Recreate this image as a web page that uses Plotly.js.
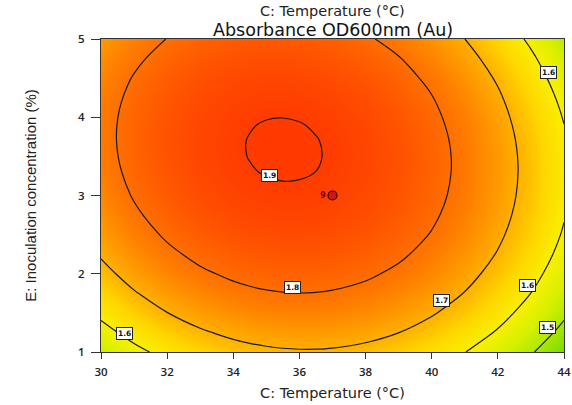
<!DOCTYPE html>
<html>
<head>
<meta charset="utf-8">
<script src="https://cdn.plot.ly/plotly-3.0.1.min.js"></script>
<style>
  html, body { margin: 0; padding: 0; background: #ffffff; }
  #chart { width: 572px; height: 405px; }
</style>
</head>
<body>
<div id="chart"></div>
<script>
// Factor C: temperature (°C) — columns of the response grid (finer near the optimum)
const temperature = [30, 31, 32, 33, 34, 34.5, 35, 35.5, 36, 36.5, 37, 38, 39, 40, 41, 42, 43, 44];

// Factor E: inoculation concentration (%) — rows of the response grid (finer near the optimum)
const inoculation = [1, 1.25, 1.5, 1.75, 2, 2.25, 2.5, 2.75, 3, 3.3, 3.5, 3.7, 3.9, 4.1, 4.3, 4.5, 4.75, 5];

// Predicted absorbance OD600nm (Au), one row per inoculation level
const absorbance = [
  [1.5342, 1.5816, 1.6207, 1.6515, 1.6741, 1.6823, 1.6884, 1.6925, 1.6945, 1.6945, 1.6924, 1.6820, 1.6634, 1.6365, 1.6014, 1.5581, 1.5065, 1.4466],
  [1.5767, 1.6234, 1.6619, 1.6922, 1.7142, 1.7222, 1.7280, 1.7318, 1.7336, 1.7332, 1.7308, 1.7199, 1.7007, 1.6733, 1.6376, 1.5937, 1.5415, 1.4811],
  [1.6151, 1.6613, 1.6992, 1.7289, 1.7504, 1.7580, 1.7636, 1.7671, 1.7686, 1.7680, 1.7653, 1.7538, 1.7340, 1.7060, 1.6698, 1.6253, 1.5725, 1.5115],
  [1.6495, 1.6951, 1.7325, 1.7616, 1.7825, 1.7899, 1.7952, 1.7984, 1.7996, 1.7987, 1.7957, 1.7837, 1.7633, 1.7348, 1.6979, 1.6529, 1.5996, 1.5380],
  [1.6799, 1.7250, 1.7618, 1.7904, 1.8107, 1.8177, 1.8228, 1.8257, 1.8266, 1.8254, 1.8222, 1.8095, 1.7886, 1.7595, 1.7221, 1.6765, 1.6226, 1.5605],
  [1.7063, 1.7508, 1.7871, 1.8151, 1.8348, 1.8416, 1.8463, 1.8490, 1.8496, 1.8481, 1.8446, 1.8314, 1.8099, 1.7802, 1.7423, 1.6961, 1.6416, 1.5790],
  [1.7288, 1.7727, 1.8084, 1.8358, 1.8550, 1.8615, 1.8659, 1.8683, 1.8686, 1.8669, 1.8631, 1.8493, 1.8273, 1.7970, 1.7585, 1.7117, 1.6567, 1.5934],
  [1.7472, 1.7905, 1.8256, 1.8525, 1.8711, 1.8773, 1.8815, 1.8836, 1.8836, 1.8816, 1.8775, 1.8632, 1.8406, 1.8097, 1.7706, 1.7233, 1.6677, 1.6039],
  [1.7616, 1.8044, 1.8389, 1.8652, 1.8833, 1.8892, 1.8931, 1.8949, 1.8946, 1.8923, 1.8880, 1.8730, 1.8499, 1.8185, 1.7788, 1.7309, 1.6748, 1.6104],
  [1.7736, 1.8157, 1.8496, 1.8752, 1.8926, 1.8982, 1.9017, 1.9032, 1.9026, 1.8999, 1.8952, 1.8796, 1.8558, 1.8237, 1.7833, 1.7348, 1.6779, 1.6129],
  [1.7784, 1.8201, 1.8535, 1.8787, 1.8956, 1.9009, 1.9042, 1.9055, 1.9047, 1.9018, 1.8969, 1.8808, 1.8565, 1.8239, 1.7832, 1.7341, 1.6768, 1.6113],
  [1.7807, 1.8219, 1.8548, 1.8795, 1.8960, 1.9011, 1.9042, 1.9052, 1.9042, 1.9011, 1.8959, 1.8794, 1.8547, 1.8217, 1.7804, 1.7309, 1.6732, 1.6072],
  [1.7804, 1.8211, 1.8536, 1.8779, 1.8939, 1.8988, 1.9017, 1.9024, 1.9012, 1.8978, 1.8924, 1.8755, 1.8503, 1.8168, 1.7751, 1.7252, 1.6670, 1.6006],
  [1.7775, 1.8178, 1.8499, 1.8737, 1.8892, 1.8939, 1.8965, 1.8971, 1.8956, 1.8920, 1.8864, 1.8690, 1.8433, 1.8094, 1.7673, 1.7169, 1.6582, 1.5913],
  [1.7721, 1.8119, 1.8435, 1.8669, 1.8820, 1.8864, 1.8888, 1.8892, 1.8874, 1.8836, 1.8778, 1.8599, 1.8338, 1.7994, 1.7568, 1.7060, 1.6469, 1.5795],
  [1.7641, 1.8035, 1.8346, 1.8575, 1.8722, 1.8764, 1.8786, 1.8787, 1.8767, 1.8727, 1.8666, 1.8483, 1.8217, 1.7869, 1.7439, 1.6925, 1.6330, 1.5652],
  [1.7505, 1.7893, 1.8199, 1.8422, 1.8563, 1.8603, 1.8621, 1.8620, 1.8597, 1.8554, 1.8491, 1.8302, 1.8030, 1.7677, 1.7240, 1.6722, 1.6120, 1.5437],
  [1.7329, 1.7712, 1.8012, 1.8229, 1.8365, 1.8401, 1.8417, 1.8413, 1.8387, 1.8342, 1.8275, 1.8081, 1.7804, 1.7444, 1.7002, 1.6478, 1.5871, 1.5181]
];

// Contour levels and where each level's tag sits on its line
const contourLevels = [1.5, 1.6, 1.7, 1.8, 1.9];
const tagLevel = [1.9, 1.8, 1.7, 1.6, 1.6, 1.6, 1.5];
const tagTemp  = [35.08, 35.78, 40.31, 42.91, 43.52, 30.70, 43.49];
const tagInoc  = [3.253, 1.824, 1.658, 1.85, 4.566, 1.237, 1.314];

// Design centre point and its replicate count
const centreTemp = [37];
const centreInoc = [3];
const centreReps = ['9'];

// Tick values
const tempTicks = [30, 32, 34, 36, 38, 40, 42, 44];
const inocTicks = [1, 2, 3, 4, 5];

const zLow = 1.40, zHigh = 1.92;
const colourStops = [
  [1.40, 'rgb(80,208,0)'],
  [1.45, 'rgb(122,220,0)'],
  [1.50, 'rgb(170,232,0)'],
  [1.55, 'rgb(215,240,0)'],
  [1.60, 'rgb(248,240,0)'],
  [1.65, 'rgb(255,215,0)'],
  [1.70, 'rgb(255,176,0)'],
  [1.78, 'rgb(255,122,0)'],
  [1.85, 'rgb(255,84,0)'],
  [1.92, 'rgb(255,50,0)']
];
const colorscale = colourStops.map(([v, c]) => [(v - zLow) / (zHigh - zLow), c]);

const surface = {
  type: 'contour',
  x: temperature,
  y: inoculation,
  z: absorbance,
  zmin: zLow,
  zmax: zHigh,
  colorscale: colorscale,
  showscale: false,
  contours: {
    start: contourLevels[0],
    end: contourLevels[contourLevels.length - 1],
    size: 0.1,
    coloring: 'heatmap',
    showlabels: false
  },
  line: { color: '#1b1b1b', width: 1.2, smoothing: 1 },
  hoverinfo: 'skip'
};

const centre = {
  type: 'scatter',
  mode: 'markers+text',
  x: centreTemp,
  y: centreInoc,
  text: centreReps,
  textposition: 'middle left',
  textfont: { family: 'DejaVu Sans', size: 8, color: '#7a0000', weight: 700 },
  marker: { size: 9, color: '#c41a1a', line: { color: '#3a0000', width: 1.2 } },
  cliponaxis: false,
  hoverinfo: 'skip'
};

const tagAnnotations = tagLevel.map((lv, i) => ({
  x: tagTemp[i], y: tagInoc[i], xref: 'x', yref: 'y',
  text: lv.toFixed(1),
  showarrow: false,
  font: { family: 'DejaVu Sans', size: 7.5, color: '#111', weight: 700 },
  bgcolor: '#ffffff',
  bordercolor: '#222',
  borderwidth: 1,
  borderpad: 1
}));

const headerAnnotations = [
  {
    text: 'C: Temperature (°C)',
    xref: 'paper', yref: 'paper', x: 0.5, y: 1.0895,
    xanchor: 'center', yanchor: 'middle', showarrow: false,
    font: { family: 'DejaVu Sans', size: 14.5, color: '#222' }
  },
  {
    text: 'Absorbance OD600nm (Au)',
    xref: 'paper', yref: 'paper', x: 0.5, y: 1.0272,
    xanchor: 'center', yanchor: 'middle', showarrow: false,
    font: { family: 'DejaVu Sans', size: 17.5, color: '#111' }
  }
];

const axisFont = { family: 'Open Sans', size: 11.5, color: '#222', weight: 600 };

const layout = {
  width: 572,
  height: 405,
  margin: { l: 101, r: 8, t: 39, b: 53 },
  paper_bgcolor: '#ffffff',
  plot_bgcolor: '#ffffff',
  showlegend: false,
  xaxis: {
    range: [30, 44],
    tickvals: tempTicks,
    ticks: 'outside', ticklen: 6, tickwidth: 1, tickcolor: '#333',
    ticklabelstandoff: 3,
    showline: true, linecolor: '#333', linewidth: 1, mirror: true,
    showgrid: false, zeroline: false,
    tickfont: axisFont,
    title: { text: 'C: Temperature (°C)', font: { family: 'DejaVu Sans', size: 14.5, color: '#222' }, standoff: 10 }
  },
  yaxis: {
    range: [1, 5],
    tickvals: inocTicks,
    ticks: 'outside', ticklen: 9, tickwidth: 1, tickcolor: '#333',
    ticklabelstandoff: 4,
    showline: true, linecolor: '#333', linewidth: 1, mirror: true,
    showgrid: false, zeroline: false,
    tickfont: axisFont,
    title: {
      text: 'E: Inoculation concentration (%)',
      font: { family: 'Liberation Sans', size: 15, color: '#222' },
      standoff: 37
    }
  },
  annotations: tagAnnotations.concat(headerAnnotations)
};

Plotly.newPlot('chart', [surface, centre], layout, { displayModeBar: false, staticPlot: true });
</script>
</body>
</html>
